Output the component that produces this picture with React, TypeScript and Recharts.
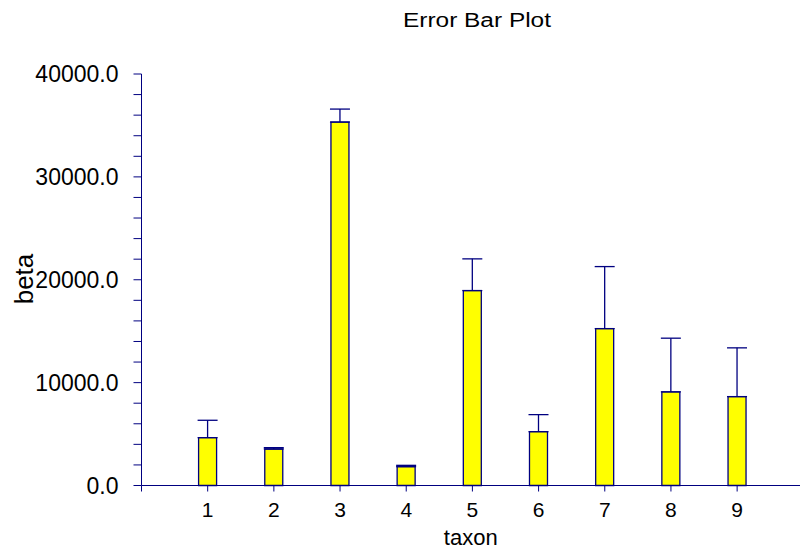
import { BarChart, Bar, XAxis, YAxis, ErrorBar } from "recharts";

const taxa = [1, 2, 3, 4, 5, 6, 7, 8, 9];
const beta = [4650, 3550, 35330, 1830, 18950, 5230, 15250, 9100, 8640];
const upperError = [1690, 130, 1260, 130, 3080, 1660, 6030, 5220, 4740];
const xTicks = [0, 1, 2, 3, 4, 5, 6, 7, 8, 9];
const yTicks = [
  0, 2000, 4000, 6000, 8000, 10000, 12000, 14000, 16000, 18000, 20000, 22000,
  24000, 26000, 28000, 30000, 32000, 34000, 36000, 38000, 40000,
];

const data = taxa.map((t, i) => ({
  taxon: t,
  beta: beta[i],
  err: [0, upperError[i]],
}));

const NAVY = "#000080";
const FONT = "Arial, 'Liberation Sans', sans-serif";

function YTick(props: any) {
  const { x, y, payload } = props;
  if (payload.value % 10000 !== 0) return <g />;
  return (
    <text
      x={x}
      y={y}
      dy="0.355em"
      textAnchor="end"
      fontFamily={FONT}
      fontSize={23}
      fill="#000"
    >
      {Number(payload.value).toFixed(1)}
    </text>
  );
}

function XTick(props: any) {
  const { x, y, payload } = props;
  if (payload.value === 0) return <g />;
  return (
    <text
      x={x}
      y={y}
      dy="0.71em"
      textAnchor="middle"
      fontFamily={FONT}
      fontSize={21}
      fill="#000"
    >
      {payload.value}
    </text>
  );
}

function BetaLabel() {
  return (
    <text
      x={33}
      y={279}
      transform="rotate(-90, 33, 279)"
      textAnchor="middle"
      fontFamily={FONT}
      fontSize={26}
      fill="#000"
    >
      beta
    </text>
  );
}

export default function App() {
  return (
    <div style={{ position: "absolute", left: 0, top: 0, width: 800, height: 549, background: "#fff" }}>
      <svg
        width={800}
        height={40}
        style={{ position: "absolute", left: 0, top: 0 }}
      >
        <text
          x={477}
          y={27}
          textAnchor="middle"
          fontFamily={FONT}
          fontSize={20}
          textLength={148}
          lengthAdjust="spacingAndGlyphs"
          fill="#000"
        >
          Error Bar Plot
        </text>
      </svg>
      <BarChart
        width={800}
        height={549}
        data={data}
        margin={{ top: 74, right: 0, bottom: 0, left: 0 }}
      >
        <XAxis
          dataKey="taxon"
          type="number"
          domain={[0, 9.95]}
          ticks={xTicks}
          interval={0}
          height={63.5}
          tickSize={6}
          tickMargin={11}
          stroke={NAVY}
          axisLine={{ stroke: NAVY }}
          tickLine={{ stroke: NAVY }}
          tick={<XTick />}
          label={{
            value: "taxon",
            position: "insideBottom",
            offset: 4,
            fontFamily: FONT,
            fontSize: 22,
            fill: "#000",
          }}
        />
        <YAxis
          type="number"
          domain={[0, 40000]}
          ticks={yTicks}
          interval={0}
          width={141.5}
          tickSize={8}
          tickMargin={15}
          axisLine={{ stroke: NAVY }}
          tickLine={{ stroke: NAVY }}
          tick={<YTick />}
          label={<BetaLabel />}
        />
        <Bar
          dataKey="beta"
          barSize={18}
          fill="#FFFF00"
          stroke={NAVY}
          strokeWidth={1.3}
          isAnimationActive={false}
        >
          <ErrorBar
            dataKey="err"
            direction="y"
            width={10}
            stroke={NAVY}
            strokeWidth={1.3}
          />
        </Bar>
      </BarChart>
    </div>
  );
}
